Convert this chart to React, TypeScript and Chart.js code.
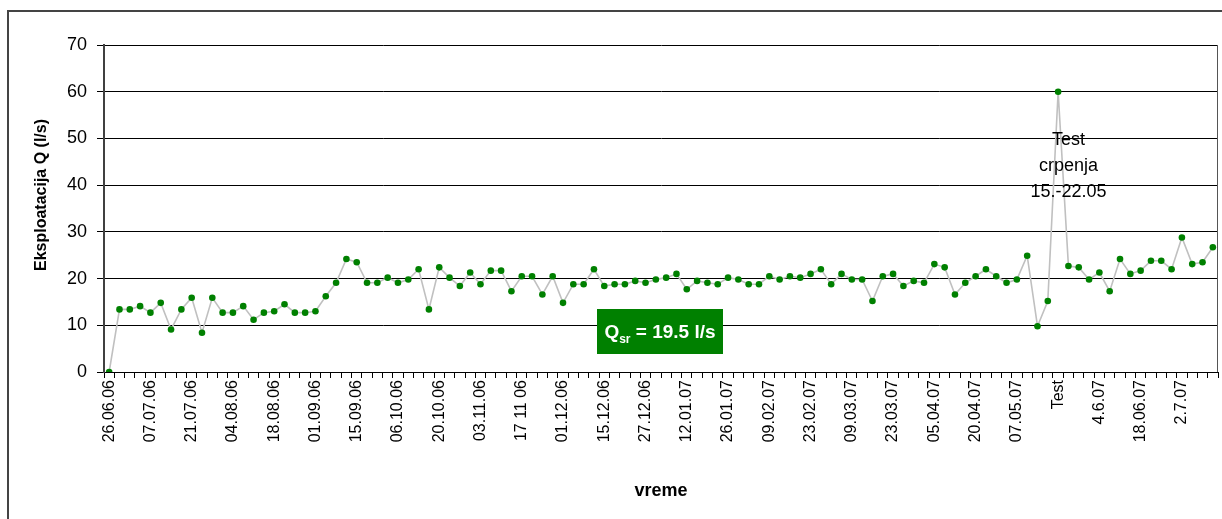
import React, { useEffect, useRef } from "react";
import { Chart, registerables } from "chart.js";

Chart.register(...registerables);

const FONT = '"Liberation Sans", Arial, Helvetica, sans-serif';

// Tick labels shown on the category axis (every LABEL_STEP-th measurement)
const tickLabels = [
  "26.06.06", "07.07.06", "21.07.06", "04.08.06", "18.08.06", "01.09.06",
  "15.09.06", "06.10.06", "20.10.06", "03.11.06", "17 11 06", "01.12.06",
  "15.12.06", "27.12.06", "12.01.07", "26.01.07", "09.02.07", "23.02.07",
  "09.03.07", "23.03.07", "05.04.07", "20.04.07", "07.05.07", "Test",
  "4.6.07", "18.06.07", "2.7.07",
];
const LABEL_STEP = 4;

// Eksploatacija Q (l/s), one value per measurement
const flowValues = [
  0, 13.4, 13.4, 14.1, 12.7, 14.8, 9.1, 13.4, 15.9, 8.4,
  15.9, 12.7, 12.7, 14.1, 11.2, 12.7, 13.0, 14.5, 12.7, 12.7,
  13.0, 16.2, 19.1, 24.2, 23.5, 19.1, 19.1, 20.2, 19.1, 19.8,
  22.0, 13.4, 22.4, 20.2, 18.4, 21.3, 18.8, 21.7, 21.7, 17.3,
  20.5, 20.5, 16.6, 20.5, 14.8, 18.8, 18.8, 22.0, 18.4, 18.8,
  18.8, 19.5, 19.1, 19.8, 20.2, 21.0, 17.7, 19.5, 19.1, 18.8,
  20.2, 19.8, 18.8, 18.8, 20.5, 19.8, 20.5, 20.2, 21.0, 22.0,
  18.8, 21.0, 19.8, 19.8, 15.2, 20.5, 21.0, 18.4, 19.5, 19.1,
  23.1, 22.4, 16.6, 19.1, 20.5, 22.0, 20.5, 19.1, 19.8, 24.9,
  9.8, 15.2, 60.0, 22.7, 22.4, 19.8, 21.3, 17.3, 24.2, 21.0,
  21.7, 23.8, 23.8, 22.0, 28.8, 23.1, 23.5, 26.7,
];

const yAxisRange = { min: 0, max: 70, step: 10 };
const yAxisTitle = "Eksploatacija Q (l/s)";
const xAxisTitle = "vreme";
const annotationLines = ["Test", "crpenja", "15.-22.05"];
const ANNOTATION_INDEX = 93;
const ANNOTATION_TOP_VALUE = 49.7;
const averageText = { main: "Q", sub: "sr", rest: " = 19.5 l/s" };
const AVERAGE_BOX_VALUE = 8.6;

const categories = flowValues.map((_, i) =>
  i % LABEL_STEP === 0 ? tickLabels[i / LABEL_STEP] ?? "" : ""
);

const overlayPlugin = {
  id: "overlay",
  afterDatasetsDraw(chart: any) {
    const { ctx, chartArea, scales } = chart;
    const xs = scales.x;
    const ys = scales.y;
    ctx.save();

    // right border of the plot area
    ctx.strokeStyle = "#555";
    ctx.lineWidth = 1;
    const rx = Math.round(chartArea.right) - 0.5;
    ctx.beginPath();
    ctx.moveTo(rx, chartArea.top);
    ctx.lineTo(rx, chartArea.bottom);
    ctx.stroke();

    // annotation text
    ctx.fillStyle = "#000";
    ctx.font = `18px ${FONT}`;
    ctx.textAlign = "center";
    ctx.textBaseline = "middle";
    const ax = xs.getPixelForValue(ANNOTATION_INDEX);
    const ay = ys.getPixelForValue(ANNOTATION_TOP_VALUE);
    annotationLines.forEach((t, i) => ctx.fillText(t, ax, ay + i * 26));

    // average box
    const cx = (chartArea.left + chartArea.right) / 2 - 1;
    const cy = ys.getPixelForValue(AVERAGE_BOX_VALUE);
    const bw = 126;
    const bh = 45;
    ctx.fillStyle = "#008000";
    ctx.fillRect(Math.round(cx - bw / 2), Math.round(cy - bh / 2), bw, bh);
    const bigFont = `bold 19px ${FONT}`;
    const subFont = `bold 12px ${FONT}`;
    ctx.font = bigFont;
    const wMain = ctx.measureText(averageText.main).width;
    const wRest = ctx.measureText(averageText.rest).width;
    ctx.font = subFont;
    const wSub = ctx.measureText(averageText.sub).width;
    const total = wMain + wSub + wRest;
    let tx = cx - total / 2;
    const base = cy + 6;
    ctx.textAlign = "left";
    ctx.textBaseline = "alphabetic";
    ctx.fillStyle = "#fff";
    ctx.font = bigFont;
    ctx.fillText(averageText.main, tx, base);
    tx += wMain;
    ctx.font = subFont;
    ctx.fillText(averageText.sub, tx, base + 5);
    tx += wSub;
    ctx.font = bigFont;
    ctx.fillText(averageText.rest, tx, base);

    ctx.restore();
  },
  afterDraw(chart: any) {
    const { ctx } = chart;
    ctx.save();
    ctx.translate(42, 195);
    ctx.rotate(-Math.PI / 2);
    ctx.fillStyle = "#000";
    ctx.font = `bold 16px ${FONT}`;
    ctx.textAlign = "center";
    ctx.textBaseline = "middle";
    ctx.fillText(yAxisTitle, 0, 0);
    ctx.restore();
  },
};

export default function App() {
  const canvasRef = useRef<HTMLCanvasElement | null>(null);

  useEffect(() => {
    const canvas = canvasRef.current;
    if (!canvas) return;
    const chart = new Chart(canvas, {
      type: "line",
      data: {
        labels: categories,
        datasets: [
          {
            data: flowValues,
            borderColor: "#c0c0c0",
            borderWidth: 1.6,
            tension: 0,
            pointRadius: 3.3,
            pointBorderWidth: 0,
            pointBackgroundColor: "#008000",
            pointBorderColor: "#008000",
            fill: false,
          },
        ],
      },
      options: {
        animation: false,
        responsive: false,
        devicePixelRatio: 1,
        layout: { padding: { left: 0, top: 45, right: 4, bottom: 0 } },
        plugins: {
          legend: { display: false },
          tooltip: { enabled: false },
          title: { display: false },
        },
        scales: {
          x: {
            type: "category",
            offset: true,
            grid: {
              display: true,
              drawOnChartArea: false,
              drawTicks: true,
              tickLength: 6,
              color: "#000",
              offset: true,
              lineWidth: 1,
            },
            border: { display: true, color: "#000", width: 1 },
            ticks: {
              autoSkip: false,
              minRotation: 90,
              maxRotation: 90,
              padding: 2,
              color: "#000",
              font: { family: FONT, size: 16 },
            },
            title: {
              display: true,
              text: xAxisTitle,
              color: "#000",
              font: { family: FONT, size: 18, weight: "bold" },
              padding: { top: 0, bottom: 17 },
            },
            afterFit: (s: any) => {
              s.height = 147;
              s.paddingLeft = 0;
              s.paddingRight = 0;
            },
          },
          y: {
            min: yAxisRange.min,
            max: yAxisRange.max,
            ticks: {
              stepSize: yAxisRange.step,
              padding: 10,
              color: "#000",
              font: { family: FONT, size: 18 },
            },
            grid: { color: "#000", lineWidth: 1, tickLength: 7, drawTicks: true },
            border: { display: true, color: "#404040", width: 2 },
            afterFit: (s: any) => {
              s.width = 104;
            },
          },
        },
      } as any,
      plugins: [overlayPlugin],
    });
    return () => chart.destroy();
  }, []);

  return (
    <div>
      <div
        style={{
          position: "absolute",
          left: 7,
          top: 10,
          width: 1215,
          height: 509,
          boxSizing: "border-box",
          borderLeft: "2px solid #444",
          borderTop: "2px solid #444",
        }}
      />
      <canvas
        ref={canvasRef}
        width={1222}
        height={519}
        style={{ position: "absolute", left: 0, top: 0, width: 1222, height: 519 }}
      />
    </div>
  );
}
